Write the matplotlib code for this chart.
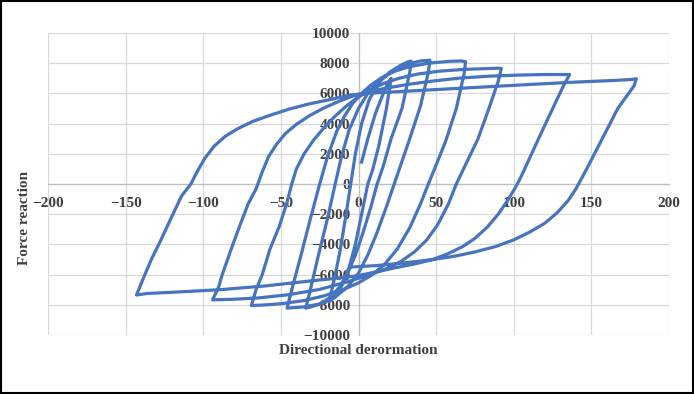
import matplotlib.pyplot as plt
from matplotlib.patches import Rectangle

# Hysteresis path, branch by branch: [deformation, force]
load_0 = [[2, 1450], [6, 3000], [11, 4700], [16, 6000], [19, 6700], [21, 7000]]
unload_1 = [[21, 7000], [18, 5000], [13, 2500], [9, 900], [6, 0], [2, -2000],
            [-2, -4000], [-6, -5500], [-11, -6800], [-15, -7450], [-19, -7800]]
reload_1 = [[-19, -7800], [-16, -6500], [-12, -4500], [-8, -2000], [-5, 0],
            [-2, 2000], [2, 4000], [7, 5600], [13, 6700], [20, 7400], [27, 7850],
            [32, 8100], [34, 8130]]
unload_2 = [[34, 8130], [33, 7400], [28, 5000], [21, 3000], [16, 1200], [12, 0],
            [8, -1500], [3, -3200], [-2, -4700], [-7, -5900], [-12, -6800],
            [-18, -7500], [-25, -7950], [-31, -8150], [-34, -8220]]
reload_2 = [[-34, -8220], [-31, -7000], [-26, -4800], [-20, -2300], [-15, 0],
            [-11, 1800], [-6, 3600], [0, 5000], [6, 6000], [13, 6800], [22, 7500],
            [32, 7950], [40, 8150], [46, 8200]]
unload_3 = [[46, 8200], [45, 7400], [40, 5200], [33, 3000], [27, 1200], [23, 0],
            [18, -1500], [12, -3200], [6, -4700], [0, -5900], [-7, -6800],
            [-15, -7500], [-25, -7950], [-36, -8150], [-46, -8220]]
reload_3 = [[-46, -8220], [-43, -7000], [-37, -4700], [-31, -2300], [-25, 0],
            [-20, 1800], [-14, 3500], [-9, 4500], [-4, 5300], [2, 6000],
            [8, 6550], [15, 7050], [23, 7450], [32, 7750], [45, 8000], [58, 8120],
            [66, 8150], [69, 8100]]
unload_4 = [[69, 8100], [68, 7300], [63, 5000], [56, 2800], [49, 1000], [45, 0],
            [40, -1300], [33, -2900], [25, -4300], [17, -5300], [9, -6000],
            [0, -6550], [-10, -7000], [-22, -7400], [-35, -7720], [-50, -7930],
            [-62, -8020], [-69, -8045]]
reload_4 = [[-69, -8045], [-66, -7000], [-62, -6000], [-57, -4300], [-51, -2800],
            [-46, -1200], [-43, 0], [-40, 1000], [-35, 2000], [-29, 2900],
            [-22, 3750], [-15, 4500], [-8, 5150], [-1, 5700], [7, 6200],
            [16, 6650], [26, 7000], [38, 7280], [52, 7470], [68, 7590], [84, 7650],
            [90, 7670], [92, 7650]]
unload_5 = [[92, 7650], [90, 6800], [84, 5000], [77, 3000], [70, 1500], [63, 0],
            [58, -1300], [51, -2700], [44, -3700], [36, -4500], [27, -5150],
            [17, -5650], [6, -6050], [-8, -6500], [-25, -6980], [-45, -7330],
            [-65, -7550], [-82, -7640], [-94, -7670]]
reload_5 = [[-94, -7670], [-90, -6800], [-88, -6070], [-82, -4310], [-76.5, -2770],
            [-71, -1300], [-66, -330], [-62, 800], [-58, 1800], [-53, 2600],
            [-47, 3350], [-40, 3950], [-32, 4500], [-22, 5050], [-12, 5500],
            [-3, 5850], [6, 6100], [18, 6350], [32, 6600], [48, 6820], [66, 7020],
            [84, 7140], [102, 7210], [120, 7250], [136, 7250]]
unload_6 = [[136, 7250], [132, 6500], [120.5, 4000], [111.5, 2000], [104, 330],
            [100.5, -330], [96, -1100], [90, -2000], [83, -2850], [75, -3600],
            [67, -4150], [58, -4600], [48, -5000], [36, -5300], [23, -5560],
            [10, -5850], [0, -6070], [-15, -6250], [-31, -6420], [-59, -6740],
            [-88, -6990], [-116, -7150], [-136, -7250], [-143, -7350]]
reload_6 = [[-143, -7350], [-138, -6100], [-133, -4900], [-128, -3870],
            [-121, -2320], [-114, -800], [-108, 0], [-104, 800], [-99, 1700],
            [-93, 2500], [-86, 3150], [-78, 3650], [-68, 4150], [-57, 4550],
            [-45, 4950], [-32, 5300], [-18, 5600], [-5, 5900], [10, 6030],
            [26, 6120], [55, 6280], [83, 6440], [112, 6600], [140, 6750],
            [165, 6860], [176, 6920], [179, 6970]]
unload_7 = [[179, 6970], [177.5, 6500], [167, 5000], [157, 3000], [147, 1000],
            [140, -330], [135, -1100], [128, -1900], [120, -2600], [110, -3200],
            [100, -3700], [88, -4150], [75, -4500], [62, -4780], [48, -5000],
            [30, -5220], [12, -5400], [-5, -5500]]

branches = [load_0, unload_1, reload_1, unload_2, reload_2, unload_3, reload_3,
            unload_4, reload_4, unload_5, reload_5, unload_6, reload_6, unload_7]

x_ticks = [-200, -150, -100, -50, 0, 50, 100, 150, 200]
y_ticks = [-10000, -8000, -6000, -4000, -2000, 0, 2000, 4000, 6000, 8000, 10000]

defl = []
force = []
for b in branches:
    for p in b:
        defl.append(p[0])
        force.append(p[1])

plt.rcParams['font.family'] = ['Liberation Serif', 'DejaVu Serif']

fig = plt.figure(figsize=(6.94, 3.94), dpi=100)
ax = fig.add_axes([48 / 694, 1 - 335 / 394, 621 / 694, 302 / 394])

ax.plot(defl, force, color='#4774c0', lw=2.3, solid_joinstyle='round', zorder=3)

ax.set_xlim(-200, 200)
ax.set_ylim(-10000, 10000)
ax.set_xticks(x_ticks)
ax.set_yticks(y_ticks)
ax.grid(True, color='#d9d9d9', lw=0.9)
ax.set_axisbelow(True)

ax.spines['left'].set_position('zero')
ax.spines['bottom'].set_position('zero')
ax.spines['top'].set_visible(False)
ax.spines['right'].set_visible(False)
for s in ['left', 'bottom']:
    ax.spines[s].set_color('#bfbfbf')
    ax.spines[s].set_linewidth(0.9)

ax.tick_params(axis='both', length=0, labelsize=11, labelcolor='#404040')
ax.tick_params(axis='x', pad=9)
ax.tick_params(axis='y', pad=6)
for lab in ax.get_xticklabels() + ax.get_yticklabels():
    lab.set_fontweight('bold')

fig.text(358 / 694, 1 - 350 / 394, 'Directional derormation', ha='center', va='center',
         fontsize=11, fontweight='bold', color='#404040')
fig.text(25 / 694, 1 - 218 / 394, 'Force reaction', ha='center', va='center',
         rotation=90, fontsize=11, fontweight='bold', color='#404040')

fig.patches.append(Rectangle((0.002, 0.003), 0.996, 0.994, transform=fig.transFigure,
                             fill=False, edgecolor='black', lw=1.5))

fig.savefig('out.png', dpi=100)
